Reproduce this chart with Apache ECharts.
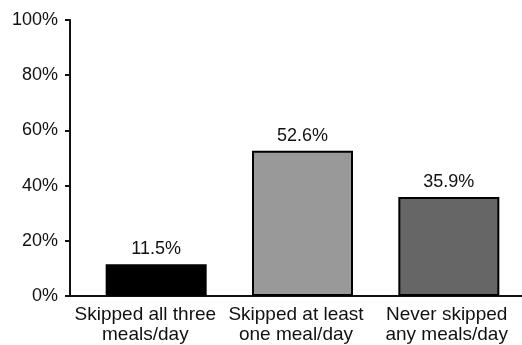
<!DOCTYPE html>
<html>
<head>
<meta charset="utf-8">
<script src="https://cdn.jsdelivr.net/npm/echarts@6/dist/echarts.min.js"></script>
<style>
  html, body { margin: 0; padding: 0; background: #fff; }
  #chart { width: 522px; height: 345px; }
</style>
</head>
<body>
<div id="chart"></div>
<script>
// Meal-skipping categories and share of respondents (%)
const categories = ['Skipped all three\nmeals/day', 'Skipped at least\none meal/day', 'Never skipped\nany meals/day'];
const values = [11.5, 52.6, 35.9];
const barColors = ['#000000', '#999999', '#666666'];
const yTicks = { min: 0, max: 100, interval: 20 };

const font = 'Liberation Sans, Arial, Helvetica, sans-serif';
const axisColor = '#111';

const chart = echarts.init(document.getElementById('chart'));
chart.setOption({
  animation: false,
  backgroundColor: '#ffffff',
  // grid 0 carries the visible axes; grid 1 lays out the bars on the same value scale
  grid: [
    { left: 70, top: 20, bottom: 49, width: 462 },
    { left: 83, top: 20, bottom: 49, width: 447 }
  ],
  xAxis: [{
    type: 'category',
    gridIndex: 0,
    data: categories,
    axisLine: { lineStyle: { color: axisColor, width: 2 } },
    axisTick: { length: 5, lineStyle: { color: axisColor, width: 2 } },
    axisLabel: { color: axisColor, fontSize: 19, fontFamily: font, lineHeight: 20, margin: 9, interval: 0 }
  }, {
    type: 'category',
    gridIndex: 1,
    data: categories,
    show: false
  }],
  yAxis: [{
    type: 'value',
    gridIndex: 0,
    min: yTicks.min, max: yTicks.max, interval: yTicks.interval,
    splitLine: { show: false },
    axisLine: { show: true, lineStyle: { color: axisColor, width: 2 } },
    axisTick: { show: true, length: 5, lineStyle: { color: axisColor, width: 2 } },
    axisLabel: { color: axisColor, fontSize: 18, fontFamily: font, margin: 12, formatter: '{value}%' }
  }, {
    type: 'value',
    gridIndex: 1,
    min: yTicks.min, max: yTicks.max, interval: yTicks.interval,
    show: false
  }],
  series: [{
    type: 'bar',
    xAxisIndex: 1,
    yAxisIndex: 1,
    barWidth: 101,
    data: values.map((v, i) => ({
      value: v,
      itemStyle: { color: barColors[i], borderColor: '#000', borderWidth: 2 }
    })),
    label: {
      show: true, position: 'top', distance: 6,
      color: axisColor, fontSize: 18, fontFamily: font,
      formatter: p => p.value.toFixed(1) + '%'
    }
  }]
});
</script>
</body>
</html>
